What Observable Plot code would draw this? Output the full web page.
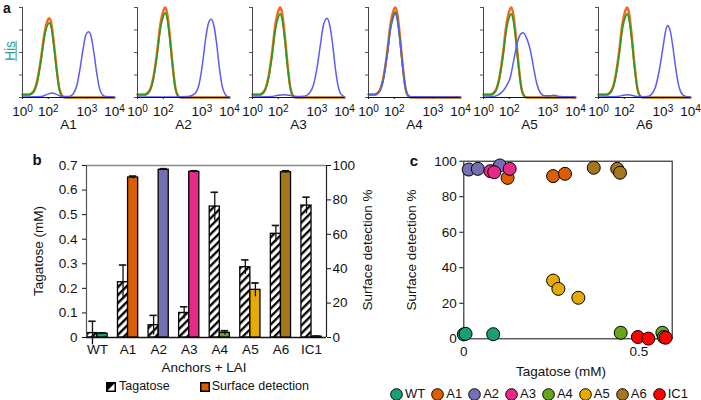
<!DOCTYPE html>
<html><head><meta charset="utf-8">
<script src="https://cdn.jsdelivr.net/npm/d3@7"></script>
<script src="https://cdn.jsdelivr.net/npm/@observablehq/plot@0.6"></script>
<style>
body{margin:0;background:#fff;}
#fig{position:relative;width:701px;height:400px;overflow:hidden;font-family:"Liberation Sans",Arial,Helvetica,sans-serif;color:#111;}
.lbl{position:absolute;white-space:nowrap;line-height:1.2;transform:translate(-50%,-50%);font-size:13px;}
.rot{transform:translate(-50%,-50%) rotate(-90deg);}
.letter{position:absolute;font-weight:bold;font-size:15px;line-height:1.2;transform:translate(-50%,-50%);}
.leg{position:absolute;display:flex;align-items:center;white-space:nowrap;line-height:1.25;}
.leg span{line-height:1.25;}
</style></head><body><div id="fig"></div>
<script>
// ---------- Panel a: flow cytometry histograms ----------
const panelNames = ["A1","A2","A3","A4","A5","A6"];
const histTickPos = [0, 28, 70, 100];
const histTickBase = "10";
const histTickExp = ["0","2","3","4"];
const histYTicks = [0, 0.25, 0.5, 0.75, 1];

const a1Orange = [[0,0.035],[7,0.035],[12,0.07],[16,0.19],[20,0.43],[24,0.72],[27,0.85],[29,0.88],[31,0.84],[34,0.61],[37,0.33],[40,0.1],[43,0.02],[46,0],[100,0]];
const a1Green  = [[0,0.03],[7,0.03],[12,0.06],[16,0.17],[20,0.4],[24,0.68],[27,0.8],[29,0.83],[31,0.79],[34,0.58],[37,0.31],[40,0.09],[43,0.015],[46,0],[100,0]];
const a1Blue   = [[0,0.005],[20,0.01],[27,0.035],[32,0.05],[37,0.035],[43,0.01],[50,0.01],[55,0.04],[59,0.13],[63,0.35],[66,0.55],[69,0.7],[72,0.73],[75,0.66],[78,0.47],[81,0.25],[84,0.09],[87,0.03],[90,0.01],[100,0.005]];

const a2Orange = [[0,0.035],[8,0.035],[13,0.075],[17,0.21],[21,0.48],[25,0.82],[28,0.96],[30,1],[32,0.95],[35,0.7],[38,0.38],[41,0.12],[44,0.02],[47,0],[100,0]];
const a2Green  = [[0,0.03],[8,0.03],[13,0.07],[17,0.19],[21,0.45],[25,0.77],[28,0.9],[30,0.94],[32,0.89],[35,0.66],[38,0.36],[41,0.11],[44,0.02],[47,0],[100,0]];
const a2Blue   = [[0,0.005],[40,0.005],[55,0.01],[62,0.04],[67,0.15],[71,0.4],[74,0.65],[77,0.82],[80,0.87],[83,0.8],[86,0.6],[89,0.33],[92,0.13],[95,0.04],[98,0.01],[100,0.005]];

const a3Orange = [[0,0.035],[8,0.035],[13,0.075],[17,0.21],[21,0.48],[25,0.82],[28,0.96],[30,1],[32,0.95],[35,0.7],[38,0.38],[41,0.12],[44,0.02],[47,0],[100,0]];
const a3Green  = [[0,0.03],[8,0.03],[13,0.07],[17,0.19],[21,0.44],[25,0.76],[28,0.89],[30,0.93],[32,0.88],[35,0.65],[38,0.35],[41,0.11],[44,0.02],[47,0],[100,0]];
const a3Blue   = [[0,0.005],[20,0.01],[28,0.025],[34,0.03],[40,0.025],[48,0.012],[56,0.015],[62,0.05],[66,0.13],[70,0.32],[74,0.6],[77,0.8],[81,0.88],[84,0.8],[87,0.6],[90,0.33],[93,0.13],[96,0.04],[100,0.01]];

const a4Orange = [[0,0.035],[7,0.035],[12,0.075],[16,0.21],[20,0.48],[24,0.82],[27,0.96],[29,1],[31,0.95],[34,0.7],[37,0.38],[40,0.12],[43,0.02],[46,0],[100,0]];
const a4Green  = [[0,0.033],[7,0.033],[12,0.07],[16,0.2],[20,0.46],[24,0.78],[27,0.91],[29,0.95],[31,0.9],[34,0.66],[37,0.36],[40,0.11],[43,0.02],[46,0],[100,0]];
const a4Blue   = [[0,0.03],[7,0.03],[12,0.07],[16,0.19],[20,0.45],[24,0.76],[27,0.89],[29,0.93],[31,0.88],[34,0.65],[37,0.35],[40,0.11],[43,0.025],[47,0.008],[100,0.005]];

const a5Orange = [[0,0.035],[8,0.035],[13,0.075],[17,0.21],[21,0.48],[25,0.82],[28,0.96],[30,1],[32,0.95],[35,0.7],[38,0.38],[41,0.12],[44,0.02],[47,0],[100,0]];
const a5Green  = [[0,0.03],[8,0.03],[13,0.07],[17,0.19],[21,0.44],[25,0.76],[28,0.89],[30,0.93],[32,0.88],[35,0.65],[38,0.35],[41,0.11],[44,0.02],[47,0],[100,0]];
const a5Blue   = [[0,0.005],[5,0.006],[11,0.012],[16,0.03],[20,0.06],[25,0.13],[29,0.22],[33,0.42],[37,0.62],[40,0.7],[43,0.72],[46,0.68],[51,0.52],[55,0.3],[58,0.15],[62,0.05],[66,0.02],[72,0.02],[77,0.025],[83,0.01],[100,0.005]];

const a6Orange = [[0,0.035],[9,0.035],[14,0.075],[18,0.21],[22,0.48],[26,0.82],[29,0.96],[31,1],[33,0.95],[36,0.7],[39,0.38],[42,0.12],[45,0.02],[48,0],[100,0]];
const a6Green  = [[0,0.03],[9,0.03],[14,0.07],[18,0.19],[22,0.44],[26,0.76],[29,0.89],[31,0.93],[33,0.88],[36,0.65],[39,0.35],[42,0.11],[45,0.02],[48,0],[100,0]];
const a6Blue   = [[0,0.005],[20,0.01],[27,0.025],[32,0.03],[38,0.02],[45,0.008],[53,0.01],[58,0.04],[62,0.12],[66,0.3],[70,0.55],[73,0.74],[75,0.8],[78,0.74],[81,0.55],[84,0.32],[87,0.14],[90,0.05],[94,0.015],[100,0.005]];

const histOrange = [a1Orange, a2Orange, a3Orange, a4Orange, a5Orange, a6Orange];
const histGreen  = [a1Green, a2Green, a3Green, a4Green, a5Green, a6Green];
const histBlue   = [a1Blue, a2Blue, a3Blue, a4Blue, a5Blue, a6Blue];

// ---------- Panel b: bars ----------
const cats = ["WT","A1","A2","A3","A4","A5","A6","IC1"];
const tagatose    = [0.018, 0.225, 0.05, 0.10, 0.533, 0.286, 0.422, 0.537];
const tagatoseErr = [0.048, 0.07, 0.04, 0.025, 0.058, 0.03, 0.034, 0.034];
const surface     = [2.2, 93.0, 97.5, 96.3, 2.7, 27.7, 96.1, 0.5];
const surfaceErr  = [0.5, 0.8, 0.6, 0.6, 1.2, 4.0, 0.8, 0.3];
const catColors   = ["#1b9e77","#d95f02","#7570b3","#e7298a","#66a61e","#e6ab02","#a6761d","#ff0000"];
const tagTicks  = [0, 0.1, 0.2, 0.3, 0.4, 0.5, 0.6, 0.7];
const surfTicks = [0, 20, 40, 60, 80, 100];

// ---------- Panel c: scatter ----------
const scatterGroup = ["WT","WT","WT","A1","A1","A1","A2","A2","A2","A3","A3","A3","A4","A4","A4","A5","A5","A5","A6","A6","A6","IC1","IC1","IC1"];
const scatterX = [0.0,0.005,0.084, 0.125,0.255,0.289, 0.014,0.04,0.103, 0.076,0.087,0.131, 0.448,0.567,0.571, 0.255,0.27,0.327, 0.371,0.438,0.446, 0.497,0.527,0.576];
const scatterY = [2.5,2.8,2.6, 90.6,91.6,92.9, 95.3,95.7,97.6, 94.4,93.8,95.7, 3.4,3.4,1.0, 32.8,28.1,23.1, 96.3,95.7,93.5, 1.0,0.1,0.6];
const scatterXTicks = [0, 0.5];
const scatterYTicks = [0, 20, 40, 60, 80, 100];

// ================= drawing =================
const fig = document.getElementById("fig");
const FONT = '"Liberation Sans", Arial, Helvetica, sans-serif';
const baseStyle = {background: "transparent", overflow: "visible", fontFamily: FONT, fontSize: "13px", color: "#111"};
function place(el, left, top) {
  el.style.position = "absolute";
  el.style.left = left + "px";
  el.style.top = top + "px";
  fig.appendChild(el);
}
function label(text, x, y, cls, extra) {
  const d = document.createElement("div");
  d.className = cls;
  d.textContent = text;
  d.style.left = x + "px";
  d.style.top = y + "px";
  if (extra) Object.assign(d.style, extra);
  fig.appendChild(d);
  return d;
}

// Panel a
const xy = {x: d => d[0], y: d => d[1], curve: "monotone-x"};
panelNames.forEach((name, i) => {
  const axisX = 22 + 115.2 * i;
  const svg = Plot.plot({
    width: 132, height: 135,
    marginLeft: 18, marginRight: 22, marginTop: 7, marginBottom: 38,
    style: baseStyle,
    x: {domain: [0, 100], axis: null},
    y: {domain: [0, 1], axis: null},
    marks: [
      Plot.axisY({ticks: histYTicks, tickFormat: () => "", tickSize: 3, stroke: "#555", label: null}),
      Plot.axisX({ticks: histTickPos, tickFormat: () => histTickBase, tickSize: 2, tickPadding: 7, fontSize: 13.5, label: null}),
      Plot.line(histOrange[i], {...xy, stroke: "#f26a1e", strokeWidth: 2.4}),
      Plot.line(histGreen[i], {...xy, stroke: "#2f9a22", strokeWidth: 1.7}),
      Plot.line(histBlue[i], {...xy, stroke: "#5c5cf0", strokeWidth: 1.5}),
      Plot.ruleX([0], {stroke: "#444", strokeWidth: 1}),
      Plot.ruleY([0], {stroke: "#111", strokeWidth: 1.2}),
      Plot.text([name], {frameAnchor: "bottom", dy: 31, fontSize: 13.5})
    ]
  });
  // exponents as superscripts on the tick labels
  d3.select(svg).selectAll('[aria-label="x-axis tick label"] text').each(function(d, j) {
    d3.select(this).append("tspan").attr("dy", "-0.45em").attr("font-size", "10px").text(histTickExp[j]);
  });
  place(svg, axisX - 18, 0);
});
label("a", 7, 8, "letter", {fontSize: "14px"});
label("His", 10, 51, "lbl rot", {color: "#2a9c9c", textDecoration: "underline", fontSize: "14px"});

// Panel b
const barRows = cats.map((c, i) => ({cat: c, i, tag: tagatose[i], tagErr: tagatoseErr[i], surf: surface[i], surfErr: surfaceErr[i]}));
const xDom = [-0.36, 7.49];
const bw = 0.33, cap = 0.12;
const hatchDefs = () => {
  const g = document.createElementNS("http://www.w3.org/2000/svg", "defs");
  g.innerHTML = '<pattern id="hatchB" patternUnits="userSpaceOnUse" width="5.6" height="5.6" patternTransform="rotate(45)"><rect width="5.6" height="5.6" fill="white"/><line x1="1.2" y1="0" x2="1.2" y2="5.6" stroke="black" stroke-width="2.3"/></pattern>';
  return g;
};
const bDims = {width: 380, height: 250, marginLeft: 86, marginRight: 54, marginTop: 15, marginBottom: 63, style: baseStyle};
const plotB1 = Plot.plot({
  ...bDims,
  x: {domain: xDom, axis: null},
  y: {domain: [0, 0.7], axis: null},
  marks: [
    hatchDefs,
    Plot.ruleY([0.7], {stroke: "#8a8a8a", strokeWidth: 1.3}),
    Plot.rect(barRows, {x1: d => d.i - bw, x2: d => d.i, y1: 0, y2: "tag", fill: "url(#hatchB)", stroke: "black", strokeWidth: 1.3}),
    Plot.ruleX(barRows, {x: d => d.i - bw / 2, y1: d => d.tag - d.tagErr, y2: d => d.tag + d.tagErr, strokeWidth: 1.3}),
    Plot.ruleY(barRows, {y: d => d.tag + d.tagErr, x1: d => d.i - bw / 2 - cap, x2: d => d.i - bw / 2 + cap, strokeWidth: 1.6}),
    Plot.axisY({ticks: tagTicks, tickFormat: d => d === 0 ? "0" : d.toFixed(1), tickSize: 4, tickPadding: 5, fontSize: 13.5, label: null}),
    Plot.axisX({ticks: cats.map((c, i) => i), tickFormat: i => cats[i], tickSize: 0, tickPadding: 7, fontSize: 13.5, label: null}),
    Plot.ruleX([xDom[0]], {stroke: "#555", strokeWidth: 1.2}),
    Plot.ruleY([0], {stroke: "#111", strokeWidth: 1.6})
  ]
});
place(plotB1, 0, 150);
const plotB2 = Plot.plot({
  ...bDims,
  x: {domain: xDom, axis: null},
  y: {domain: [0, 100], axis: null},
  color: {domain: cats, range: catColors},
  marks: [
    Plot.rect(barRows, {x1: d => d.i, x2: d => d.i + bw, y1: 0, y2: "surf", fill: "cat", stroke: "black", strokeWidth: 1.3}),
    Plot.ruleX(barRows, {x: d => d.i + bw / 2, y1: d => d.surf - d.surfErr, y2: d => d.surf + d.surfErr, strokeWidth: 1.3}),
    Plot.ruleY(barRows, {y: d => d.surf + d.surfErr, x1: d => d.i + bw / 2 - cap, x2: d => d.i + bw / 2 + cap, strokeWidth: 1.8}),
    Plot.axisY({anchor: "right", ticks: surfTicks, tickSize: 4, tickPadding: 2, fontSize: 13.5, label: null}),
    Plot.ruleX([xDom[1]], {stroke: "#222", strokeWidth: 1.2})
  ]
});
place(plotB2, 0, 150);
label("b", 37, 160, "letter");
label("Tagatose (mM)", 39, 251, "lbl rot", {fontSize: "13.5px"});
label("Surface detection %", 368, 250, "lbl rot", {fontSize: "13.5px"});
label("Anchors + LAI", 204, 368, "lbl", {fontSize: "13.5px"});
// legend b
const legB = document.createElement("div");
legB.className = "leg";
legB.style.cssText += "left:106px;top:379px;font-size:12.5px;";
legB.innerHTML =
  '<svg width="10" height="10" style="margin-right:3px"><rect x="0.75" y="0.75" width="8.5" height="8.5" fill="white" stroke="black" stroke-width="1.5"/><path d="M0.75,0.75 L9.25,0.75 L0.75,9.25 Z" fill="black"/></svg>' +
  '<span>Tagatose</span>' +
  '<svg width="10" height="10" style="margin-left:30px;margin-right:2px"><rect x="0.75" y="0.75" width="8.5" height="8.5" fill="' + catColors[1] + '" stroke="black" stroke-width="1.5"/></svg>' +
  '<span>Surface detection</span>';
fig.appendChild(legB);

// Panel c
const scatterRows = scatterGroup.map((g, i) => ({group: g, x: scatterX[i], y: scatterY[i]}));
const plotC = Plot.plot({
  width: 281, height: 250,
  marginLeft: 43.3, marginRight: 29.3, marginTop: 10.7, marginBottom: 61.7,
  style: baseStyle,
  x: {domain: [0, 0.595], axis: null},
  y: {domain: [0, 100], axis: null},
  color: {domain: cats, range: catColors},
  marks: [
    Plot.frame({stroke: "#222", strokeWidth: 1.1}),
    Plot.axisY({ticks: scatterYTicks, tickSize: 4, tickPadding: 3, fontSize: 13.5, label: null}),
    Plot.axisX({ticks: scatterXTicks, tickFormat: d => String(d), tickSize: 3, tickPadding: 5, fontSize: 13.5, label: null}),
    Plot.dot(scatterRows, {x: "x", y: "y", fill: "group", r: 6.5, stroke: "black", strokeWidth: 1})
  ]
});
place(plotC, 420, 150);
label("c", 414, 161, "letter");
label("Surface detection %", 412, 250, "lbl rot", {fontSize: "13.5px"});
label("Tagatose (mM)", 561, 372, "lbl", {fontSize: "13.5px"});
// legend c
const legC = document.createElement("div");
legC.className = "leg";
legC.style.cssText += "left:390px;top:386px;gap:6px;font-size:13px;";
legC.innerHTML = cats.map((c, i) =>
  '<span style="display:flex;align-items:center;gap:2px"><svg width="13" height="13"><circle cx="6.5" cy="6.5" r="5.8" fill="' + catColors[i] + '" stroke="black" stroke-width="1"/></svg><span>' + c + '</span></span>'
).join("");
fig.appendChild(legC);
</script></body></html>
